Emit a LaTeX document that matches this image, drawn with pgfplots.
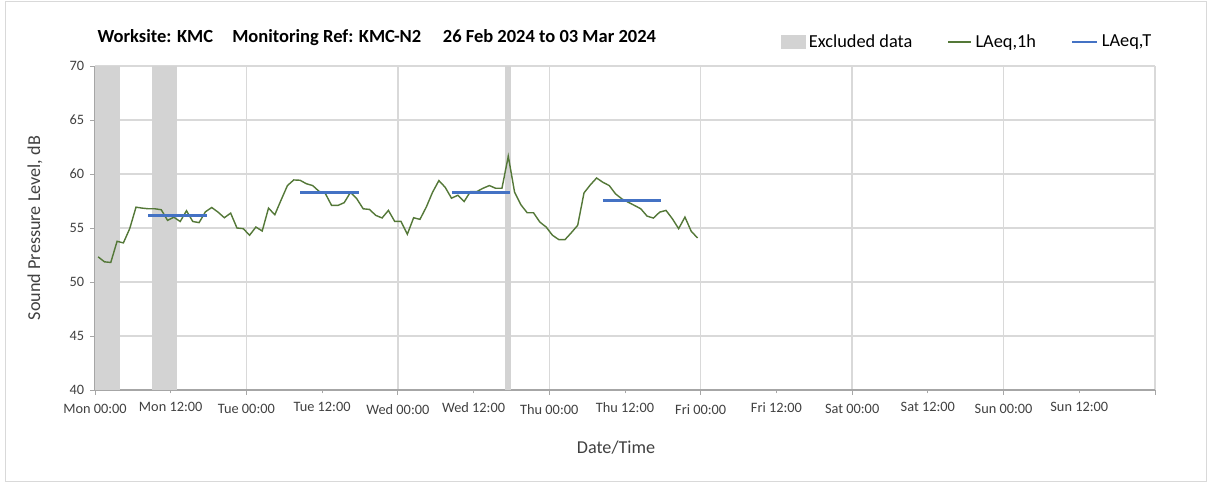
\documentclass[border=0pt]{standalone}
\usepackage{pgfplots}
\pgfplotsset{compat=1.18}
\usepackage{fontspec}
\setmainfont{Carlito}
\definecolor{lgreen}{RGB}{84,120,56}
\definecolor{lblue}{RGB}{68,114,196}
\definecolor{exgray}{RGB}{211,211,211}
\definecolor{gridc}{RGB}{217,217,217}
\definecolor{axc}{RGB}{166,166,166}
\definecolor{txt}{RGB}{64,64,64}
\begin{document}
\begin{tikzpicture}
\useasboundingbox (0,0) rectangle (724.8pt,290.4pt);
\draw[gridc, line width=0.6pt] (3pt,1.8pt) rectangle (723.6pt,289.8pt);
\node[anchor=west, inner sep=0pt, font=\fontsize{11.1}{13}\selectfont\bfseries] at (58.4pt,267.6pt)
  {Worksite: KMC\hspace*{11.5pt}Monitoring Ref: KMC-N2\hspace*{13pt}26 Feb 2024 to 03 Mar 2024};
\begin{axis}[
  at={(57pt,56.4pt)}, anchor=south west,
  scale only axis, width=636pt, height=194.4pt,
  xmin=0, xmax=168, ymin=40, ymax=70,
  ytick={40,45,...,70},
  xtick={0,24,...,168},
  xticklabels={Mon 00:00,Tue 00:00,Wed 00:00,Thu 00:00,Fri 00:00,Sat 00:00,Sun 00:00,{}},
  extra x ticks={12,36,...,156},
  extra x tick labels={Mon 12:00,Tue 12:00,Wed 12:00,Thu 12:00,Fri 12:00,Sat 12:00,Sun 12:00},
  extra x tick style={grid=none, major tick length=2pt},
  grid=major,
  major grid style={gridc, line width=0.8pt},
  axis x line*=bottom, axis y line*=left,
  axis line style={axc, line width=0.8pt, -},
  tick align=outside,
  major tick length=3pt,
  tick style={axc, line width=0.6pt},
  /pgf/number format/assume math mode=true,
  ticklabel style={font=\fontsize{8.6}{10}\selectfont, text=txt},
  xticklabel style={yshift=-2pt},
  xlabel={Date/Time},
  ylabel={Sound Pressure Level, dB},
  label style={font=\fontsize{10.9}{13}\selectfont, text=txt},
  xlabel style={at={(axis description cs:0.4915,-0.179)}, anchor=center},
  ylabel style={at={(axis description cs:-0.0566,0.5)}, anchor=center},
  legend columns=3,
  legend style={at={(axis description cs:0.6425,1.074)}, anchor=west, draw=none, fill=none,
    font=\fontsize{11}{13}\selectfont, text=black,
    /tikz/every even column/.append style={column sep=19pt},
    /tikz/every odd column/.append style={column sep=0pt}},
  unbounded coords=jump,
  clip=true,
]
\addplot[fill=exgray, draw=none, area legend,
  legend image code/.code={\fill[exgray] (0pt,-4.2pt) rectangle (14.5pt,4.2pt);}]
  coordinates {(0,40) (0,70) (4,70) (4,40)} -- cycle;
\addlegendentry{Excluded data}
\addplot[fill=exgray, draw=none, forget plot] coordinates {(9,40) (9,70) (13,70) (13,40)} -- cycle;
\addplot[fill=exgray, draw=none, forget plot] coordinates {(65,40) (65,70) (66,70) (66,40)} -- cycle;
\addplot[lgreen, line width=0.85pt, mark=none,
  legend image code/.code={\draw[lgreen, line width=0.85pt] (0pt,0pt) -- (14pt,0pt);}]
  coordinates {
(0.5,52.33) (1.5,51.87) (2.5,51.81) (3.5,53.77) (4.5,53.62) (5.5,54.94) (6.5,56.93) (7.5,56.84)
(8.5,56.78) (9.5,56.78) (10.5,56.69) (11.5,55.71) (12.5,56.00) (13.5,55.60) (14.5,56.60) (15.5,55.60)
(16.5,55.50) (17.5,56.50) (18.5,56.90) (19.5,56.47) (20.5,55.95) (21.5,56.38) (22.5,55.00) (23.5,54.94)
(24.5,54.33) (25.5,55.09) (26.5,54.72) (27.5,56.84) (28.5,56.23) (29.5,57.60) (30.5,58.93) (31.5,59.45)
(32.5,59.42) (33.5,59.10) (34.5,58.93) (35.5,58.40) (36.5,58.20) (37.5,57.09) (38.5,57.09) (39.5,57.35)
(40.5,58.31) (41.5,57.70) (42.5,56.78) (43.5,56.72) (44.5,56.17) (45.5,55.93) (46.5,56.63) (47.5,55.61)
(48.5,55.61) (49.5,54.42) (50.5,55.95) (51.5,55.80) (52.5,56.93) (53.5,58.31) (54.5,59.39) (55.5,58.77)
(56.5,57.76) (57.5,58.03) (58.5,57.45) (59.5,58.37) (60.5,58.37) (61.5,58.68) (62.5,58.93) (63.5,58.68)
(64.5,58.68) (65.5,61.65) (66.5,58.31) (67.5,57.15) (68.5,56.41) (69.5,56.41) (70.5,55.55) (71.5,55.09)
(72.5,54.33) (73.5,53.93) (74.5,53.93) (75.5,54.57) (76.5,55.25) (77.5,58.25) (78.5,58.99) (79.5,59.63)
(80.5,59.23) (81.5,58.93) (82.5,58.16) (83.5,57.70) (84.5,57.39) (85.5,57.09) (86.5,56.78) (87.5,56.10)
(88.5,55.92) (89.5,56.47) (90.5,56.63) (91.5,55.86) (92.5,54.94) (93.5,56.01) (94.5,54.69) (95.5,54.08)
};
\addlegendentry{LAeq,1h}
\addplot[lblue, line width=1.8pt, mark=none,
  legend image code/.code={\draw[lblue, line width=1.5pt] (0pt,0pt) -- (15pt,0pt);}]
  coordinates {
(8.4,56.14) (17.7,56.14) (25,nan)
(32.5,58.25) (41.8,58.25) (50,nan)
(56.6,58.30) (65.7,58.30) (73,nan)
(80.5,57.55) (89.7,57.55)
};
\addlegendentry{LAeq,T}
\end{axis}
\end{tikzpicture}
\end{document}
